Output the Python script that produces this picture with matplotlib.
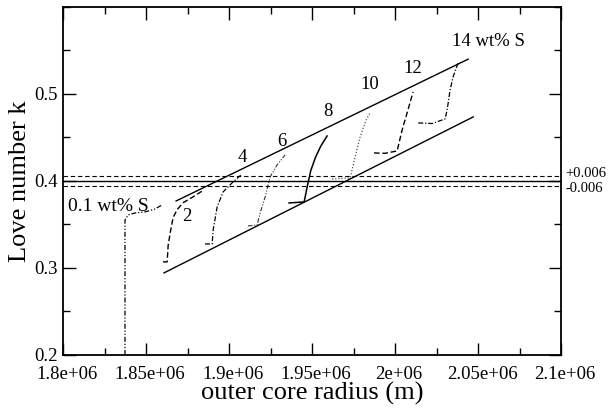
import numpy as np
import matplotlib
matplotlib.use('Agg')
import matplotlib.pyplot as plt
from matplotlib.ticker import MultipleLocator, FuncFormatter
from matplotlib.transforms import ScaledTranslation

plt.rcParams['font.family'] = 'Liberation Serif'

# k(R) curves for each sulfur content
x_s01 = [1.8373e6, 1.8373e6, 1.8392e6, 1.8434e6, 1.8494e6, 1.8554e6, 1.8596e6]
y_s01 = [0.200, 0.355, 0.361, 0.3632, 0.3644, 0.3678, 0.3724]

x_s2 = [1.8602e6, 1.8627e6, 1.8633e6, 1.8645e6, 1.8663e6, 1.8687e6, 1.8723e6, 1.8777e6, 1.8843e6]
y_s2 = [0.307, 0.307, 0.326, 0.340, 0.358, 0.367, 0.375, 0.381, 0.389]

x_s4 = [1.8855e6, 1.8898e6, 1.8904e6, 1.8928e6, 1.8964e6, 1.9024e6, 1.9072e6]
y_s4 = [0.3276, 0.3276, 0.3437, 0.3701, 0.3874, 0.3989, 0.4069]

x_s6 = [1.9114e6, 1.9169e6, 1.9187e6, 1.9217e6, 1.9247e6, 1.9289e6, 1.9337e6]
y_s6 = [0.3483, 0.3494, 0.3632, 0.3816, 0.4046, 0.4184, 0.4299]

x_s8 = [1.9361e6, 1.9452e6, 1.9470e6, 1.9492e6, 1.9520e6, 1.9552e6, 1.9590e6]
y_s8 = [0.3747, 0.3759, 0.3930, 0.4120, 0.4270, 0.4400, 0.4517]

x_s10 = [1.9620e6, 1.9729e6, 1.9759e6, 1.9789e6, 1.9825e6, 1.9849e6]
y_s10 = [0.4023, 0.4034, 0.4276, 0.4506, 0.4701, 0.4782]

x_s12 = [1.9873e6, 1.9940e6, 2.0012e6, 2.0042e6, 2.0072e6, 2.0108e6]
y_s12 = [0.4322, 0.4318, 0.4345, 0.4586, 0.4782, 0.5023]

x_s14 = [2.0139e6, 2.0223e6, 2.0301e6, 2.0313e6, 2.0331e6, 2.0349e6, 2.0379e6]
y_s14 = [0.4667, 0.4660, 0.4713, 0.4816, 0.5046, 0.5195, 0.5356]

# bounding lines
x_upper = [1.8681e6, 2.0440e6]
y_upper = [0.377, 0.540]
x_lower = [1.8608e6, 2.0470e6]
y_lower = [0.2943, 0.4736]

k_obs = 0.400
k_err = 0.006

fig = plt.figure(figsize=(6.12, 4.08), dpi=100)
ax = fig.add_axes([0.103, 0.130, 0.814, 0.853])

ax.plot(x_s01, y_s01, color='black', lw=0.9, dashes=(4, 1.5, 1, 1.5, 1, 1.5))
ax.plot(x_s2, y_s2, color='black', lw=1.0, dashes=(4, 2))
ax.plot(x_s4, y_s4, color='black', lw=0.9, dashes=(4, 1.5, 1, 1.5))
ax.plot(x_s6, y_s6, color='#333333', lw=0.8, dashes=(4, 1.5, 1, 1.5, 1, 1.5))
ax.plot(x_s8, y_s8, color='black', lw=1.1)
ax.plot(x_s10, y_s10, color='#555555', lw=0.9, dashes=(1, 1.5))
ax.plot(x_s12, y_s12, color='black', lw=1.0, dashes=(4, 2))
ax.plot(x_s14, y_s14, color='black', lw=0.9, dashes=(4, 1.5, 1, 1.5))

ax.plot(x_upper, y_upper, color='black', lw=1.0)
ax.plot(x_lower, y_lower, color='black', lw=1.0)

ax.axhline(k_obs, color='black', lw=1.0)
ax.axhline(k_obs + k_err, color='black', lw=0.8, dashes=(4, 2.5))
ax.axhline(k_obs - k_err, color='black', lw=0.8, dashes=(4, 2.5))

ax.text(1.008, k_obs + 0.0088, '+0.006', transform=ax.get_yaxis_transform(),
        fontsize=10.5, va='center', ha='left')
ax.text(1.008, k_obs - 0.0085, '-0.006', transform=ax.get_yaxis_transform(),
        fontsize=10.5, va='center', ha='left')

fs = 13.5
ax.text(1.8030e6, 0.371, '0.1 wt% S', fontsize=14, va='center', ha='left')
ax.text(1.8747e6, 0.3586, '2', fontsize=fs, va='center', ha='center')
ax.text(1.9078e6, 0.4264, '4', fontsize=fs, va='center', ha='center')
ax.text(1.9319e6, 0.4448, '6', fontsize=fs, va='center', ha='center')
ax.text(1.9596e6, 0.4793, '8', fontsize=fs, va='center', ha='center')
ax.text(1.9849e6, 0.5103, '10', fontsize=fs, va='center', ha='center')
ax.text(2.0108e6, 0.5287, '12', fontsize=fs, va='center', ha='center')
ax.text(2.0343e6, 0.5598, '14 wt% S', fontsize=fs, va='center', ha='left')

ax.set_xlim(1.8e6, 2.1e6)
ax.set_ylim(0.2, 0.6)
ax.set_xticks(np.arange(1.8e6, 2.1e6 + 1, 0.05e6))
ax.set_yticks([0.2, 0.3, 0.4, 0.5])
ax.xaxis.set_minor_locator(MultipleLocator(0.025e6))
ax.yaxis.set_minor_locator(MultipleLocator(0.05))
ax.xaxis.set_major_formatter(FuncFormatter(lambda v, p: '%g' % v))
ax.yaxis.set_major_formatter(FuncFormatter(lambda v, p: '%g' % v))

ax.tick_params(which='both', direction='in', top=True, right=True, labelsize=13.5, width=1.0)
ax.tick_params(which='major', length=9)
ax.tick_params(which='minor', length=5)
ax.tick_params(axis='x', which='major', pad=8)
ax.tick_params(axis='y', which='major', pad=4)
for s in ax.spines.values():
    s.set_linewidth(1.3)

# x tick labels sit a bit right of their ticks in the original
shift = ScaledTranslation(0.04, 0, fig.dpi_scale_trans)
for lbl in ax.get_xticklabels():
    lbl.set_transform(lbl.get_transform() + shift)

ax.set_xlabel('outer core radius (m)', fontsize=19, labelpad=-1)
ax.set_ylabel('Love number k', fontsize=19, labelpad=2)

fig.savefig('out.png', dpi=100)
